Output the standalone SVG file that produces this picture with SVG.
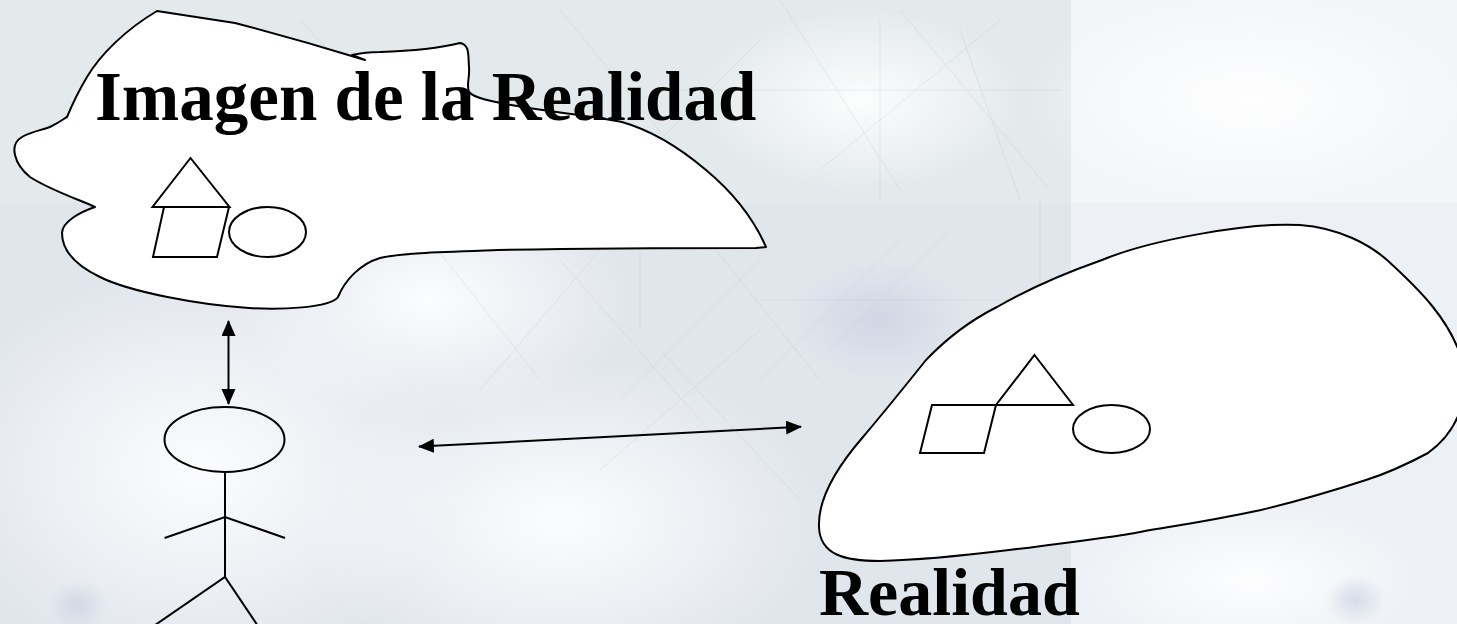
<svg xmlns="http://www.w3.org/2000/svg" width="1457" height="624" viewBox="0 0 1457 624">
  <style>
    .ol { fill: #ffffff; stroke: #000000; stroke-width: 2; stroke-linejoin: round; }
    .sh { fill: none; stroke: #000000; stroke-width: 2; stroke-linejoin: miter; }
    .ln { fill: none; stroke: #000000; stroke-width: 2; }
    .lbl { font-family: "Liberation Serif", "Times New Roman", serif; font-weight: bold; fill: #000000; }
    .tx { stroke: #9fb0b4; stroke-width: 0.7; opacity: 0.25; fill: none; }
  </style>
  <defs>
    <marker id="ah" markerUnits="userSpaceOnUse" markerWidth="18" markerHeight="16" refX="15" refY="7" orient="auto-start-reverse">
      <path d="M0,0 L16,7 L0,14 Z" fill="#000000"/>
    </marker>
    <radialGradient id="cl1" cx="0.5" cy="0.5" r="0.5">
      <stop offset="0" stop-color="#ffffff" stop-opacity="0.9"/>
      <stop offset="1" stop-color="#ffffff" stop-opacity="0"/>
    </radialGradient>
    <radialGradient id="cl2" cx="0.5" cy="0.5" r="0.5">
      <stop offset="0" stop-color="#c9d0e0" stop-opacity="0.7"/>
      <stop offset="1" stop-color="#c9d0e0" stop-opacity="0"/>
    </radialGradient>
  </defs>

  <g id="background">
    <rect x="0" y="0" width="1457" height="624" fill="#f3f5f7"/>
    <rect x="0" y="0" width="1071" height="203" fill="#e4eaeb"/>
    <rect x="0" y="203" width="1071" height="421" fill="#e1e6ed"/>
    <rect x="1071" y="203" width="386" height="421" fill="#edf0f5"/>
    <ellipse cx="200" cy="470" rx="260" ry="200" fill="url(#cl1)"/>
    <ellipse cx="560" cy="520" rx="260" ry="160" fill="url(#cl1)"/>
    <ellipse cx="430" cy="300" rx="200" ry="120" fill="url(#cl1)"/>
    <ellipse cx="860" cy="100" rx="160" ry="90" fill="url(#cl1)"/>
    <ellipse cx="1250" cy="100" rx="220" ry="110" fill="url(#cl1)"/>
    <ellipse cx="1250" cy="580" rx="180" ry="80" fill="url(#cl1)"/>
    <ellipse cx="880" cy="320" rx="90" ry="60" fill="url(#cl2)"/>
    <ellipse cx="360" cy="90" rx="80" ry="40" fill="url(#cl2)"/>
    <ellipse cx="78" cy="605" rx="30" ry="25" fill="url(#cl2)"/>
    <ellipse cx="1355" cy="600" rx="30" ry="25" fill="url(#cl2)"/>
    <g class="tx">
      <path d="M560,10 L700,180"/><path d="M600,200 L760,40"/><path d="M780,0 L900,190"/>
      <path d="M820,170 L1000,20"/><path d="M900,10 L1050,190"/><path d="M960,30 L1020,200"/>
      <path d="M700,230 L820,380"/><path d="M760,380 L900,240"/><path d="M560,260 L700,420"/>
      <path d="M620,400 L760,260"/><path d="M830,350 L950,230"/><path d="M600,470 L760,330"/>
      <path d="M430,240 L540,380"/><path d="M480,390 L600,250"/><path d="M300,20 L420,150"/>
      <path d="M650,90 L1060,90"/><path d="M760,300 L1060,300"/><path d="M640,150 L640,330"/>
      <path d="M880,20 L880,200"/><path d="M1040,200 L1040,400"/><path d="M660,350 L800,500"/>
    </g>
  </g>

  <g id="imagen-cloud">
    <path class="ol" d="M157,11 L235,23 Q300,40 365,60 L352,55 Q365,52 380,52 C410,51 440,48 460,43 C470,45 468,55 469,67 C470,78 466,85 469,92 C475,99 495,102 522,107 C560,113 600,117 622,122 C650,130 680,148 706,170 C730,190 752,215 766,247 L756,248 C650,248 550,249 498,250 C440,252 400,253 380,258 C360,264 345,280 338,297 C330,308 280,310 249,308 C200,305 130,292 100,277 C75,265 62,250 62,233 C62,222 80,212 95,207 C80,200 50,190 30,177 C15,165 8,145 22,137 C30,132 42,130 50,127 C60,122 65,118 67,117 C72,105 78,92 87,77 C100,55 125,30 157,11 Z"/>
    <path class="sh" d="M190.5,158 L229.5,207 L152.5,207 Z"/>
    <path class="sh" d="M164,207 L229,207 L217,257 L153,257 Z"/>
    <ellipse class="sh" cx="267.5" cy="232" rx="38.5" ry="25"/>
    <text class="lbl" x="95" y="120" font-size="69">Imagen de la Realidad</text>
  </g>

  <g id="realidad-cloud">
    <path class="ol" d="M1102,260 C1150,240 1250,222 1300,225 C1340,228 1370,245 1387,260 C1420,290 1450,320 1462,360 C1470,395 1460,430 1428,453 C1400,468 1385,474 1366,480 C1320,495 1290,503 1261,510 C1200,523 1160,528 1135,533 C1080,542 1040,546 1009,550 C960,556 920,560 880,561 C845,561 820,555 819,527 C818,505 830,475 863,437 C890,405 910,380 926,360 C950,335 975,318 997,307 C1030,288 1065,273 1102,260 Z"/>
    <path class="sh" d="M1034.5,355 L1073,405 L996,405 Z"/>
    <path class="sh" d="M932,405 L996,405 L984,453 L920,453 Z"/>
    <ellipse class="sh" cx="1111.5" cy="429" rx="38.5" ry="24"/>
    <text class="lbl" x="819" y="615" font-size="68">Realidad</text>
  </g>

  <g id="persona">
    <ellipse class="ln" cx="224.5" cy="439.5" rx="60" ry="32.5"/>
    <path class="ln" d="M225,472 L225,577"/>
    <path class="ln" d="M164.6,538 L225,517 L285,538"/>
    <path class="ln" d="M145,632 L225,577 L262,632"/>
  </g>

  <g id="connectors">
    <line class="ln" x1="228.5" y1="321" x2="228.5" y2="404" marker-start="url(#ah)" marker-end="url(#ah)"/>
    <line class="ln" x1="419" y1="446.6" x2="801" y2="426.8" marker-start="url(#ah)" marker-end="url(#ah)"/>
  </g>
</svg>
